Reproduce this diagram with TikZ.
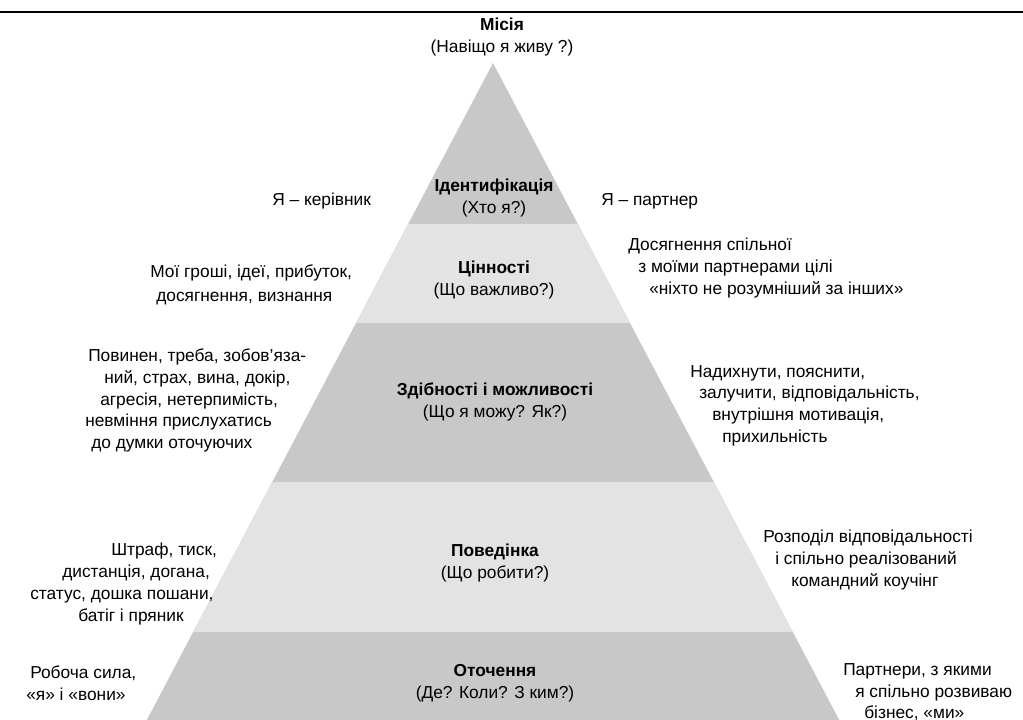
\documentclass[tikz,border=0pt]{standalone}
\usepackage{fontspec}
\setmainfont{Liberation Sans}
\definecolor{pyrdark}{HTML}{C8C8C8}
\definecolor{pyrlight}{HTML}{E3E3E3}
\begin{document}
\begin{tikzpicture}[x=0.75pt,y=-0.75pt,
  txt/.style={inner sep=0pt, font=\fontsize{13}{16.5}\selectfont},
  lbl/.style={txt, align=center},
  side/.style={txt, anchor=base west}]
\useasboundingbox (0,0) rectangle (1023,720);

% rule across the top
\coordinate (ruleL) at (0,12);
\coordinate (ruleR) at (1023,12);
\draw[line width=2pt] (ruleL) -- (ruleR);

% pyramid corners, level by level
\coordinate (apex) at (493,63);
\coordinate (b1l) at (408.2,224); \coordinate (b1r) at (577.8,224);
\coordinate (b2l) at (356,323);   \coordinate (b2r) at (630,323);
\coordinate (b3l) at (272.2,482); \coordinate (b3r) at (713.8,482);
\coordinate (b4l) at (193.1,632); \coordinate (b4r) at (792.9,632);
\coordinate (b5l) at (146.8,720); \coordinate (b5r) at (839.2,720);

% whole pyramid in the darker grey, lighter bands on top
\fill[pyrdark] (apex) -- (b5r) -- (b5l) -- cycle;
\fill[pyrlight] (b1l) -- (b1r) -- (b2r) -- (b2l) -- cycle;
\fill[pyrlight] (b3l) -- (b3r) -- (b4r) -- (b4l) -- cycle;

% level names
\node[lbl] (mission) at (502,37) {\textbf{Місія}\\(Навіщо я живу ?)};
\node[lbl] (ident) at (494,198) {\textbf{Ідентифікація}\\(Хто я?)};
\node[lbl] (values) at (494,280) {\textbf{Цінності}\\(Що важливо?)};
\node[lbl] (abil) at (495,402) {\textbf{Здібності і можливості}\\(Що я можу? Як?)};
\node[lbl] (behav) at (495,563) {\textbf{Поведінка}\\(Що робити?)};
\node[lbl] (envir) at (495,683) {\textbf{Оточення}\\(Де? Коли? З ким?)};

% identification
\node[side] (idL) at (272,205) {Я – керівник};
\node[side] (idR) at (601,205) {Я – партнер};

% values
\node[side] (vaL1) at (150,277) {Мої гроші, ідеї, прибуток,};
\node[side] (vaL2) at (156,301) {досягнення, визнання};
\node[side] (vaR1) at (628,250) {Досягнення спільної};
\node[side] (vaR2) at (638,272) {з моїми партнерами цілі};
\node[side] (vaR3) at (649,294) {«ніхто не розумніший за інших»};

% abilities
\node[side] (abL1) at (88,361)  {Повинен, треба, зобов’яза-};
\node[side] (abL2) at (104,383) {ний, страх, вина, докір,};
\node[side] (abL3) at (100,405) {агресія, нетерпимість,};
\node[side] (abL4) at (85,426)  {невміння прислухатись};
\node[side] (abL5) at (91,448)  {до думки оточуючих};
\node[side] (abR1) at (690,377) {Надихнути, пояснити,};
\node[side] (abR2) at (699,398) {залучити, відповідальність,};
\node[side] (abR3) at (712,420) {внутрішня мотивація,};
\node[side] (abR4) at (722,442) {прихильність};

% behaviour
\node[side] (beL1) at (111,555) {Штраф, тиск,};
\node[side] (beL2) at (62,577)  {дистанція, догана,};
\node[side] (beL3) at (30,599)  {статус, дошка пошани,};
\node[side] (beL4) at (78,621)  {батіг і пряник};
\node[side] (beR1) at (763,542) {Розподіл відповідальності};
\node[side] (beR2) at (775,564) {і спільно реалізований};
\node[side] (beR3) at (791,586) {командний коучінг};

% environment
\node[side] (enL1) at (30,678) {Робоча сила,};
\node[side] (enL2) at (26,700) {«я» і «вони»};
\node[side] (enR1) at (843,675) {Партнери, з якими};
\node[side] (enR2) at (855,697) {я спільно розвиваю};
\node[side] (enR3) at (864,718) {бізнес, «ми»};
\end{tikzpicture}
\end{document}
